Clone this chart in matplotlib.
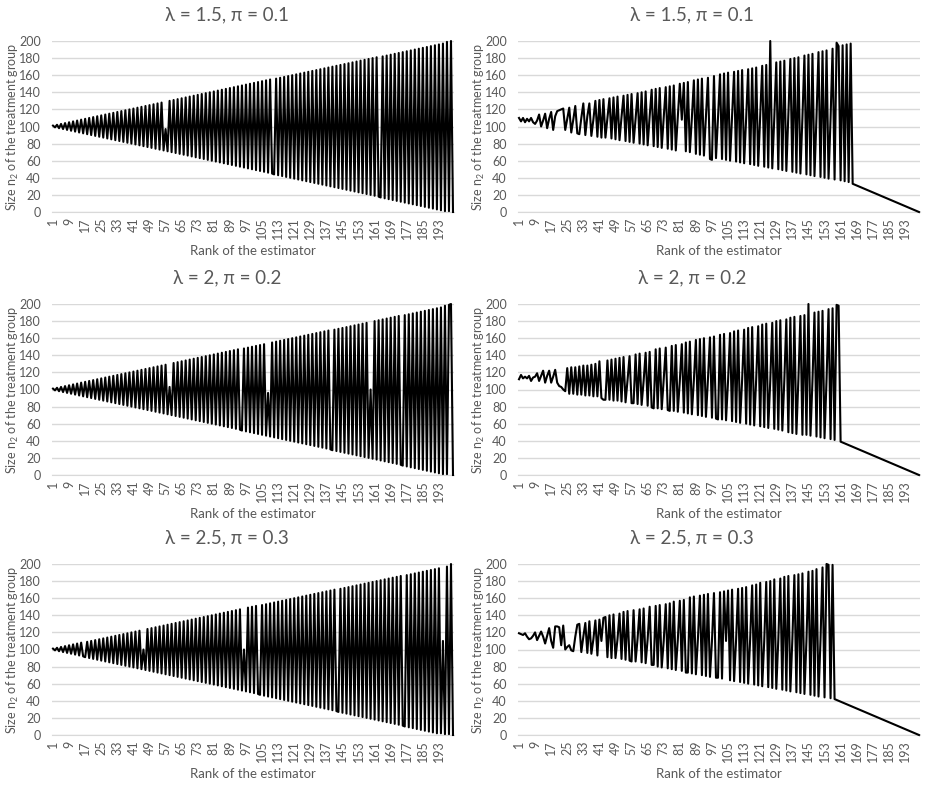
import matplotlib
matplotlib.use("Agg")
import matplotlib.pyplot as plt
import numpy as np

plt.rcParams["font.family"] = ["Lato", "DejaVu Sans"]
plt.rcParams["mathtext.fontset"] = "custom"
plt.rcParams["mathtext.rm"] = "Lato"

# tick labels on the category axis (every 8th rank)
tick_ranks = list(range(1, 200, 8))
y_ticks = list(range(0, 201, 20))

titles = ["\u03bb = 1.5, \u03c0 = 0.1", "\u03bb = 2, \u03c0 = 0.2", "\u03bb = 2.5, \u03c0 = 0.3"]

# n2 of the estimator by rank, left column
left_15 = [
    101, 99, 102, 98, 103, 97, 104, 96, 105, 95, 106, 94, 107, 93, 108, 92, 109, 91, 110, 90,
    111, 89, 112, 88, 113, 87, 114, 86, 115, 85, 116, 84, 117, 83, 118, 82, 119, 81, 120, 80,
    121, 79, 122, 78, 123, 77, 124, 76, 125, 75, 126, 74, 127, 73, 128, 72, 97, 71, 130, 70,
    131, 69, 132, 68, 133, 67, 134, 66, 135, 65, 136, 64, 137, 63, 138, 62, 139, 61, 140, 60,
    141, 59, 142, 58, 143, 57, 144, 56, 145, 55, 146, 54, 147, 53, 148, 52, 149, 51, 150, 50,
    151, 49, 152, 48, 153, 47, 154, 46, 155, 45, 44, 156, 43, 157, 42, 158, 41, 159, 40, 160,
    39, 161, 38, 162, 37, 163, 36, 164, 35, 165, 34, 166, 33, 167, 32, 168, 31, 169, 30, 170,
    29, 171, 28, 172, 27, 173, 26, 174, 25, 175, 24, 176, 23, 177, 22, 178, 21, 179, 20, 180,
    19, 181, 18, 17, 182, 16, 183, 15, 184, 14, 185, 13, 186, 12, 187, 11, 188, 10, 189, 9,
    190, 8, 191, 7, 192, 6, 193, 5, 194, 4, 195, 3, 196, 2, 197, 1, 199, 1, 200, 0,
]
left_20 = [
    101, 99, 102, 98, 103, 97, 104, 96, 105, 95, 106, 94, 107, 93, 108, 92, 109, 91, 110, 90,
    111, 89, 112, 88, 113, 87, 114, 86, 115, 85, 116, 84, 117, 83, 118, 82, 119, 81, 120, 80,
    121, 79, 122, 78, 123, 77, 124, 76, 125, 75, 126, 74, 127, 73, 128, 72, 129, 71, 103, 70,
    131, 69, 132, 68, 133, 67, 134, 66, 135, 65, 136, 64, 137, 63, 138, 62, 139, 61, 140, 60,
    141, 59, 142, 58, 143, 57, 144, 56, 145, 55, 146, 54, 147, 53, 52, 148, 51, 149, 50, 150,
    49, 151, 48, 152, 47, 153, 46, 96, 45, 155, 44, 156, 43, 157, 42, 158, 41, 159, 40, 160,
    39, 161, 38, 162, 37, 163, 36, 164, 35, 165, 34, 166, 33, 167, 32, 168, 31, 169, 30, 29,
    170, 28, 171, 27, 172, 26, 173, 25, 174, 24, 175, 23, 176, 22, 177, 21, 178, 20, 100, 19,
    180, 18, 181, 17, 182, 16, 183, 15, 184, 14, 185, 13, 186, 12, 11, 187, 10, 188, 9, 189,
    8, 190, 7, 191, 6, 192, 5, 193, 4, 194, 3, 195, 2, 196, 1, 198, 1, 199, 200, 0,
]
left_25 = [
    101, 99, 102, 98, 103, 97, 104, 96, 105, 95, 106, 94, 107, 93, 108, 92, 91, 109, 90, 110,
    89, 111, 88, 112, 87, 113, 86, 114, 85, 115, 84, 116, 83, 117, 82, 118, 81, 119, 80, 120,
    79, 121, 78, 122, 77, 100, 76, 124, 75, 125, 74, 126, 73, 127, 72, 128, 71, 129, 70, 130,
    69, 131, 68, 132, 67, 133, 66, 134, 65, 135, 64, 136, 63, 137, 62, 138, 61, 139, 60, 140,
    59, 141, 58, 142, 57, 143, 56, 144, 55, 145, 54, 146, 53, 147, 52, 100, 51, 149, 50, 150,
    49, 151, 48, 47, 152, 46, 153, 45, 154, 44, 155, 43, 156, 42, 157, 41, 158, 40, 159, 39,
    160, 38, 161, 37, 162, 36, 163, 35, 164, 34, 165, 33, 166, 32, 167, 31, 168, 30, 169, 29,
    170, 28, 27, 171, 26, 172, 25, 173, 24, 174, 23, 175, 22, 176, 21, 177, 20, 178, 19, 179,
    18, 180, 17, 181, 16, 182, 15, 183, 14, 184, 13, 185, 12, 186, 11, 10, 187, 9, 188, 8,
    189, 7, 190, 6, 191, 5, 192, 4, 193, 3, 194, 2, 195, 2, 110, 1, 197, 1, 200, 0,
]

# right column
right_15 = [
    110, 106, 110, 105, 109, 106, 110, 105, 103, 107, 114, 100, 107, 115, 98, 109, 117, 96, 112, 118,
    119, 120, 121, 96, 109, 122, 93, 108, 124, 92, 91, 110, 127, 90, 112, 127, 89, 108, 130, 88,
    131, 87, 132, 87, 110, 133, 86, 134, 85, 135, 84, 111, 136, 83, 137, 82, 138, 81, 109, 139,
    80, 140, 79, 141, 78, 112, 143, 77, 144, 76, 145, 75, 110, 146, 74, 147, 73, 148, 72, 111,
    150, 108, 151, 71, 152, 70, 110, 154, 68, 155, 67, 156, 66, 112, 157, 62, 61, 159, 63, 110,
    161, 62, 162, 61, 163, 60, 112, 164, 59, 165, 58, 166, 57, 109, 167, 56, 168, 55, 169, 54,
    111, 171, 53, 172, 52, 200, 51, 110, 175, 50, 176, 49, 177, 48, 112, 179, 47, 180, 46, 181,
    45, 110, 183, 44, 184, 43, 185, 42, 111, 187, 41, 188, 40, 189, 39, 109, 191, 38, 198, 194,
    37, 195, 36, 196, 35, 197, 33, 32, 31, 30, 29, 28, 27, 26, 25, 24, 23, 22, 21, 20,
    19, 18, 17, 16, 15, 14, 13, 12, 11, 10, 9, 8, 7, 6, 5, 4, 3, 2, 1, 0,
]
right_20 = [
    112, 117, 113, 115, 113, 116, 110, 114, 115, 119, 110, 116, 122, 108, 116, 122, 108, 115, 123, 108,
    104, 103, 100, 98, 125, 95, 126, 95, 126, 94, 127, 94, 128, 93, 128, 93, 129, 92, 130, 92,
    133, 90, 88, 88, 134, 88, 135, 87, 136, 87, 137, 86, 138, 85, 111, 139, 84, 84, 141, 83,
    142, 82, 110, 143, 81, 144, 79, 78, 147, 78, 148, 77, 112, 149, 76, 75, 151, 75, 152, 74,
    110, 153, 73, 155, 72, 156, 71, 111, 158, 70, 159, 69, 160, 68, 112, 161, 67, 162, 66, 65,
    164, 65, 165, 64, 110, 166, 63, 168, 62, 169, 61, 111, 170, 60, 172, 59, 173, 58, 112, 174,
    57, 176, 56, 177, 55, 110, 178, 54, 180, 53, 181, 52, 111, 182, 50, 184, 49, 185, 48, 112,
    186, 47, 187, 47, 200, 46, 110, 190, 45, 191, 44, 192, 43, 111, 194, 42, 195, 41, 199, 198,
    39, 38, 37, 36, 35, 34, 33, 32, 31, 30, 29, 28, 27, 26, 25, 24, 23, 22, 21, 20,
    19, 18, 17, 16, 15, 14, 13, 12, 11, 10, 9, 8, 7, 6, 5, 4, 3, 2, 1, 0,
]
right_25 = [
    119, 118, 117, 119, 115, 112, 113, 116, 120, 111, 116, 121, 115, 107, 116, 125, 110, 102, 127, 127,
    126, 105, 128, 100, 103, 105, 99, 98, 115, 129, 130, 97, 115, 131, 96, 133, 95, 112, 134, 93,
    135, 110, 137, 138, 91, 140, 90, 141, 90, 112, 142, 89, 144, 88, 145, 87, 86, 146, 86, 113,
    147, 85, 148, 84, 112, 150, 82, 82, 151, 80, 152, 79, 110, 153, 78, 154, 77, 156, 76, 111,
    157, 75, 158, 73, 73, 161, 72, 162, 71, 112, 163, 70, 164, 69, 165, 68, 110, 166, 67, 67,
    167, 66, 168, 110, 169, 64, 170, 63, 111, 171, 62, 172, 61, 173, 60, 112, 175, 59, 176, 58,
    178, 57, 110, 179, 56, 180, 55, 182, 54, 111, 183, 53, 185, 52, 186, 51, 112, 187, 50, 188,
    49, 189, 48, 110, 191, 47, 192, 46, 194, 45, 111, 196, 44, 200, 199, 43, 199, 42, 41, 40,
    39, 38, 37, 36, 35, 34, 33, 32, 31, 30, 29, 28, 27, 26, 25, 24, 23, 22, 21, 20,
    19, 18, 17, 16, 15, 14, 13, 12, 11, 10, 9, 8, 7, 6, 5, 4, 3, 2, 1, 0,
]

panels = [
    (0, 0, left_15, titles[0]), (1, 0, right_15, titles[0]),
    (0, 1, left_20, titles[1]), (1, 1, right_20, titles[1]),
    (0, 2, left_25, titles[2]), (1, 2, right_25, titles[2]),
]

W, H = 933, 793
fig = plt.figure(figsize=(W / 100, H / 100), dpi=100)

col_left = [52, 518]
col_title = [227, 692]
row_top = [41, 304, 564]
plot_w, plot_h = 402, 171
gray = "#595959"

for col, row, values, title in panels:
    x0, y0 = col_left[col], row_top[row]
    ax = fig.add_axes([x0 / W, 1 - (y0 + plot_h) / H, plot_w / W, plot_h / H])
    ranks = np.arange(1, len(values) + 1)
    ax.plot(ranks, values, color="black", lw=1.5, solid_joinstyle="round", clip_on=False, zorder=3)
    ax.set_xlim(0.5, 200.5)
    ax.set_ylim(0, 200)
    ax.set_yticks(y_ticks)
    ax.set_xticks(tick_ranks)
    ax.set_xticklabels([str(t) for t in tick_ranks], rotation=90)
    ax.grid(axis="y", color="#d9d9d9", lw=1)
    ax.set_axisbelow(True)
    for s in ["top", "right", "left"]:
        ax.spines[s].set_visible(False)
    ax.spines["bottom"].set_color("#d9d9d9")
    ax.tick_params(length=0, labelsize=9, colors=gray)
    ax.tick_params(axis="y", pad=8)
    ax.tick_params(axis="x", pad=4)

    fig.text(col_title[col] / W, 1 - (y0 - 26) / H, title, ha="center", va="center",
             fontsize=13.5, color=gray)
    fig.text((x0 + plot_w / 2) / W, 1 - (y0 + 210) / H, "Rank of the estimator",
             ha="center", va="center", fontsize=9.5, color=gray)
    fig.text((x0 - 39) / W, 1 - (y0 + 86) / H,
             r"Size n$_{\mathregular{2}}$ of the treatment group",
             ha="center", va="center", rotation=90, fontsize=9, color=gray)

fig.savefig("out.png", dpi=100)
